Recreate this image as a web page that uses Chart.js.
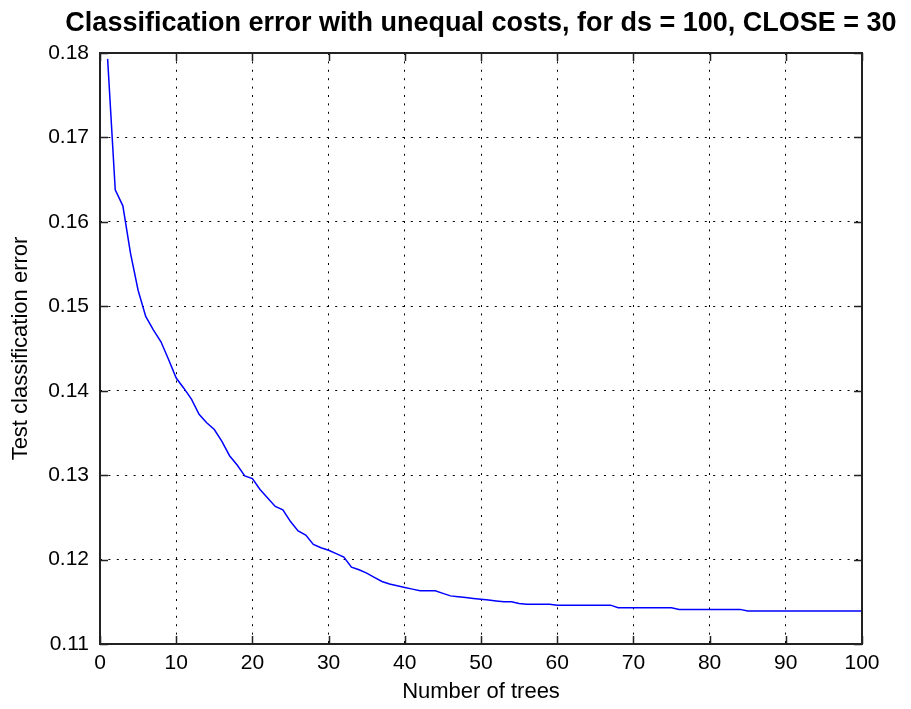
<!DOCTYPE html>
<html>
<head>
<meta charset="utf-8">
<title>Classification error with unequal costs</title>
<script src="https://cdn.jsdelivr.net/npm/chart.js@4/dist/chart.umd.min.js"></script>
<style>
    html, body { margin: 0; padding: 0; background: #fff; }
    #errChart { display: block; }
</style>
</head>
<body>
<canvas id="errChart" width="911" height="709"></canvas>
<script>
// number of trees in the ensemble
const trees = [
    1, 2, 3, 4, 5, 6, 7, 8, 9, 10,
    11, 12, 13, 14, 15, 16, 17, 18, 19, 20,
    21, 22, 23, 24, 25, 26, 27, 28, 29, 30,
    31, 32, 33, 34, 35, 36, 37, 38, 39, 40,
    41, 42, 43, 44, 45, 46, 47, 48, 49, 50,
    51, 52, 53, 54, 55, 56, 57, 58, 59, 60,
    61, 62, 63, 64, 65, 66, 67, 68, 69, 70,
    71, 72, 73, 74, 75, 76, 77, 78, 79, 80,
    81, 82, 83, 84, 85, 86, 87, 88, 89, 90,
    91, 92, 93, 94, 95, 96, 97, 98, 99, 100,
];

// test classification error
const testError = [
    0.1793, 0.1638, 0.1619, 0.1563, 0.1519, 0.1488, 0.1472, 0.1458, 0.1437, 0.1415,
    0.1403, 0.1390, 0.1372, 0.1362, 0.1354, 0.1340, 0.1323, 0.1312, 0.1299, 0.1296,
    0.1283, 0.1273, 0.1263, 0.1259, 0.1245, 0.1234, 0.1229, 0.1218, 0.1214, 0.1211,
    0.1207, 0.1203, 0.1191, 0.1188, 0.1184, 0.1179, 0.1174, 0.1171, 0.1169, 0.1167,
    0.1165, 0.1163, 0.1163, 0.1163, 0.1160, 0.1157, 0.1156, 0.1155, 0.1154, 0.1153,
    0.1152, 0.1151, 0.1150, 0.1150, 0.1148, 0.1147, 0.1147, 0.1147, 0.1147, 0.1146,
    0.1146, 0.1146, 0.1146, 0.1146, 0.1146, 0.1146, 0.1146, 0.1143, 0.1143, 0.1143,
    0.1143, 0.1143, 0.1143, 0.1143, 0.1143, 0.1141, 0.1141, 0.1141, 0.1141, 0.1141,
    0.1141, 0.1141, 0.1141, 0.1141, 0.1139, 0.1139, 0.1139, 0.1139, 0.1139, 0.1139,
    0.1139, 0.1139, 0.1139, 0.1139, 0.1139, 0.1139, 0.1139, 0.1139, 0.1139, 0.1139,
];

const xTicks = [0, 10, 20, 30, 40, 50, 60, 70, 80, 90, 100];
const yTicks = [0.11, 0.12, 0.13, 0.14, 0.15, 0.16, 0.17, 0.18];
const yTickLabels = ["0.11", "0.12", "0.13", "0.14", "0.15", "0.16", "0.17", "0.18"];

const chartTitle = "Classification error with unequal costs, for ds = 100, CLOSE = 30";

const FONT = "'Liberation Sans', Arial, Helvetica, sans-serif";

// matlab style box with inward tick marks, plus the title centred on the axes
const axesBox = {
    id: "axesBox",
    afterDraw(chart) {
        const { ctx, chartArea: a, scales } = chart;
        const len = 8;
        ctx.save();
        ctx.strokeStyle = "#222";
        ctx.lineWidth = 1.5;
        ctx.beginPath();
        xTicks.forEach((t) => {
            const px = Math.round(scales.x.getPixelForValue(t)) + 0.5;
            ctx.moveTo(px, a.bottom);
            ctx.lineTo(px, a.bottom - len);
            ctx.moveTo(px, a.top);
            ctx.lineTo(px, a.top + len);
        });
        yTicks.forEach((t) => {
            const py = Math.round(scales.y.getPixelForValue(t)) + 0.5;
            ctx.moveTo(a.left, py);
            ctx.lineTo(a.left + len, py);
            ctx.moveTo(a.right, py);
            ctx.lineTo(a.right - len, py);
        });
        ctx.stroke();
        ctx.lineWidth = 2;
        ctx.strokeRect(a.left, a.top, a.right - a.left, a.bottom - a.top);

        ctx.fillStyle = "#000";
        ctx.font = "bold 27px " + FONT;
        ctx.textAlign = "center";
        ctx.textBaseline = "alphabetic";
        ctx.fillText(chartTitle, (a.left + a.right) / 2, 31);
        ctx.restore();
    },
};

const ctx = document.getElementById("errChart");

new Chart(ctx, {
    type: "line",
    data: {
        labels: trees,
        datasets: [
            {
                label: "Test classification error",
                data: trees.map((t, i) => ({ x: t, y: testError[i] })),
                borderColor: "#0000ff",
                borderWidth: 1.5,
                pointRadius: 0,
                tension: 0,
                fill: false,
            },
        ],
    },
    options: {
        responsive: false,
        animation: false,
        events: [],
        layout: { padding: { left: 0, right: 49, top: 53, bottom: 0 } },
        plugins: {
            legend: { display: false },
            tooltip: { enabled: false },
            title: { display: false },
        },
        scales: {
            x: {
                type: "linear",
                min: 0,
                max: 100,
                afterBuildTicks: (scale) => {
                    scale.ticks = xTicks.map((v) => ({ value: v }));
                },
                afterFit: (scale) => {
                    scale.height = 65;
                },
                ticks: {
                    color: "#000",
                    font: { family: FONT, size: 21 },
                    padding: 7,
                    maxRotation: 0,
                    autoSkip: false,
                },
                grid: {
                    color: "#000",
                    lineWidth: 1,
                    drawTicks: false,
                },
                border: { display: false, dash: [2, 6.4] },
                title: {
                    display: true,
                    text: "Number of trees",
                    color: "#000",
                    font: { family: FONT, size: 22 },
                    padding: { top: 0, bottom: 4 },
                },
            },
            y: {
                type: "linear",
                min: 0.11,
                max: 0.18,
                afterBuildTicks: (scale) => {
                    scale.ticks = yTicks.map((v) => ({ value: v }));
                },
                afterFit: (scale) => {
                    scale.width = 100;
                },
                ticks: {
                    color: "#000",
                    font: { family: FONT, size: 21 },
                    padding: 11,
                    autoSkip: false,
                    callback: (value, index) => yTickLabels[index],
                },
                grid: {
                    color: "#000",
                    lineWidth: 1,
                    drawTicks: false,
                },
                border: { display: false, dash: [2, 6.4] },
                title: {
                    display: true,
                    text: "Test classification error",
                    color: "#000",
                    font: { family: FONT, size: 22 },
                    padding: { top: 8, bottom: 0 },
                },
            },
        },
    },
    plugins: [axesBox],
});
</script>
</body>
</html>
